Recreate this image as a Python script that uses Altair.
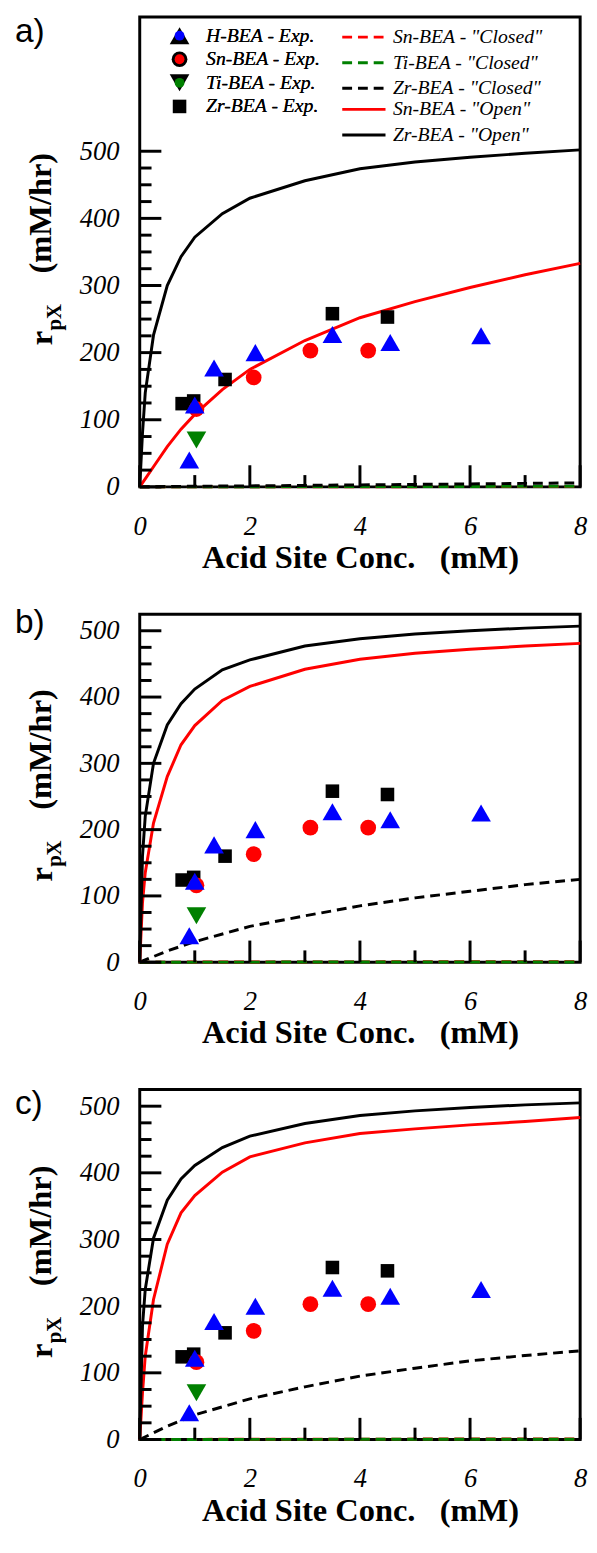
import altair as alt
import pandas as pd

# ---------------- data ----------------
X_OPEN = [0, 0.05, 0.1, 0.25, 0.5, 0.75, 1, 1.5, 2, 3, 4, 5, 6, 7, 8]
X_CLOSED = [0, 0.5, 1, 2, 3, 4, 5, 6, 7, 8]

A_ZR_OPEN = [0, 80, 140, 226, 300, 343, 372, 407, 430, 456, 474, 484, 491, 497, 502]
A_SN_OPEN = [0, 6, 12, 30, 60, 86, 108, 145, 175, 218, 252, 276, 297, 316, 333]
A_ZR_CLOSED = [0, 0.5, 1, 1.5, 2.2, 3, 3.7, 4.4, 5.2, 6]
A_SN_CLOSED = [0, 0.05, 0.1, 0.15, 0.2, 0.3, 0.35, 0.4, 0.45, 0.5]
A_TI_CLOSED = [0, 0.1, 0.15, 0.3, 0.4, 0.5, 0.6, 0.7, 0.8, 0.9]

B_ZR_OPEN = [0, 160, 220, 300, 358, 390, 412, 441, 456, 477, 488, 495, 500, 504, 507]
B_SN_OPEN = [0, 90, 135, 210, 280, 328, 357, 395, 416, 442, 457, 466, 472, 477, 481]
B_ZR_CLOSED = [0, 17, 31, 54, 70, 85, 97, 107, 117, 125]
B_SN_CLOSED = [0, 0.1, 0.2, 0.3, 0.4, 0.5, 0.6, 0.7, 0.8, 0.9]
B_TI_CLOSED = [0, 0.05, 0.1, 0.15, 0.2, 0.25, 0.3, 0.35, 0.4, 0.45]

C_ZR_OPEN = [0, 170, 225, 302, 359, 391, 411, 438, 455, 474, 486, 493, 498, 502, 505]
C_SN_OPEN = [0, 70, 125, 210, 293, 340, 366, 401, 424, 445, 459, 466, 472, 477, 483]
C_ZR_CLOSED = [0, 20, 37, 61, 79, 95, 107, 118, 126, 133]
C_SN_CLOSED = [0, 0.1, 0.2, 0.3, 0.4, 0.5, 0.6, 0.7, 0.8, 0.9]
C_TI_CLOSED = [0, 0.05, 0.1, 0.15, 0.2, 0.25, 0.3, 0.35, 0.4, 0.45]

# experimental points (same in every panel); drawn in this order
EXP_SERIES = (["Zr-BEA - Exp."] * 5 + ["Sn-BEA - Exp."] * 4 + ["Ti-BEA - Exp."]
              + ["H-BEA - Exp."] * 7)
EXP_X = [0.77, 0.98, 1.55, 3.5, 4.5,
         1.03, 2.07, 3.1, 4.15,
         1.03,
         0.9, 1.0, 1.35, 2.1, 3.5, 4.55, 6.2]
EXP_Y = [124, 128, 160, 258, 253,
         116, 163, 203, 203,
         70,
         40, 122, 177, 200, 227, 215, 225]

EXP_NAMES = ["H-BEA - Exp.", "Sn-BEA - Exp.", "Ti-BEA - Exp.", "Zr-BEA - Exp."]
EXP_COLORS = ["#0000ff", "#ff0000", "#008000", "#000000"]
EXP_SHAPES = ["triangle-up", "circle", "triangle-down", "square"]
EXP_SIZES = [400, 256, 400, 190]

CLOSED_NAMES = ['Sn-BEA - "Closed"', 'Ti-BEA - "Closed"', 'Zr-BEA - "Closed"']
CLOSED_COLORS = ["#ff0000", "#008000", "#000000"]
OPEN_NAMES = ['Sn-BEA - "Open"', 'Zr-BEA - "Open"']
OPEN_COLORS = ["#ff0000", "#000000"]
TICK_NAME = "tick"
DASH = [10, 6]

Y_MAJOR = [0, 100, 200, 300, 400, 500]
Y_MINOR = [25, 50, 75, 125, 150, 175, 225, 250, 275, 325, 350, 375, 425, 450, 475]
X_MAJOR = [0, 2, 4, 6, 8]
X_MINOR = [1, 3, 5, 7]

X_TITLE = "Acid Site Conc.\u00a0\u00a0\u00a0(mM)"

SERIF = "Liberation Serif, Times New Roman, DejaVu Serif, serif"
SANS = "Liberation Sans, Arial, sans-serif"
W = 448
MAJOR_LEN = 22
MINOR_LEN = 12


def x_enc(field):
    return alt.X(field, type="quantitative",
                 scale=alt.Scale(domain=[0, 8], nice=False, zero=False),
                 axis=alt.Axis(values=X_MAJOR, format="d", labelFont=SERIF,
                               labelFontStyle="italic", labelFontSize=27,
                               labelColor="black", ticks=False, tickSize=0,
                               domain=False, grid=False, labelPadding=27,
                               labelFlush=False, labelOverlap=False,
                               title=X_TITLE, titleFont=SERIF, titleFontSize=33,
                               titleFontWeight="bold", titleColor="black",
                               titlePadding=3))


def y_enc(field, ymax):
    return alt.Y(field, type="quantitative", title=None,
                 scale=alt.Scale(domain=[0, ymax], nice=False, zero=False),
                 axis=alt.Axis(values=Y_MAJOR, format="d", labelFont=SERIF,
                               labelFontStyle="italic", labelFontSize=27,
                               labelColor="black", ticks=False, tickSize=0,
                               domain=False, grid=False, labelPadding=21,
                               labelFlush=False, labelOverlap=False))


def text_layer(txt, x, y, size, font, weight="normal", angle=0,
               baseline="alphabetic"):
    return alt.Chart(pd.DataFrame({"t": [txt]})).mark_text(
        font=font, fontSize=size, fontWeight=weight, angle=angle,
        align="left", baseline=baseline, color="black"
    ).encode(x=alt.value(x), y=alt.value(y), text="t:N")


def line_legend(y, dash, values):
    kw = dict(orient="none", legendX=216.5, legendY=y,
              labelFont=SERIF, labelFontStyle="italic",
              labelFontSize=20, labelColor="black",
              rowPadding=4, labelOffset=18, padding=0,
              symbolType="M-2.2,0L2.2,0", symbolSize=400,
              symbolStrokeWidth=3, labelLimit=400, values=values)
    if dash:
        kw["symbolDash"] = DASH
    return alt.Legend(**kw)


def panel(letter, letter_y, zr_open, sn_open, zr_closed, sn_closed, ti_closed,
          ymax, H, legend):
    closed_rows = []
    for name, ys in zip(CLOSED_NAMES, [sn_closed, ti_closed, zr_closed]):
        for xv, yv in zip(X_CLOSED, ys):
            closed_rows.append({"x": xv, "y": yv, "model": name})

    # solid lines: the two "Open" curves plus the inward tick marks
    solid_rows = []
    for name, ys in zip(OPEN_NAMES, [sn_open, zr_open]):
        for i, (xv, yv) in enumerate(zip(X_OPEN, ys)):
            solid_rows.append({"x": xv, "y": yv, "model": name, "g": name,
                               "k": i})
    ux = 8.0 / W
    uy = float(ymax) / H
    tid = 0
    for vals, ln in [(Y_MAJOR, MAJOR_LEN), (Y_MINOR, MINOR_LEN)]:
        for v in vals:
            g = "t%d" % tid
            solid_rows.append({"x": 0.0, "y": v, "model": TICK_NAME, "g": g, "k": 0})
            solid_rows.append({"x": ln * ux, "y": v, "model": TICK_NAME, "g": g, "k": 1})
            tid += 1
    for vals, ln in [(X_MAJOR, MAJOR_LEN), (X_MINOR, MINOR_LEN)]:
        for v in vals:
            g = "t%d" % tid
            solid_rows.append({"x": v, "y": 0.0, "model": TICK_NAME, "g": g, "k": 0})
            solid_rows.append({"x": v, "y": ln * uy, "model": TICK_NAME, "g": g, "k": 1})
            tid += 1

    exp_df = pd.DataFrame({"x": EXP_X, "y": EXP_Y, "series": EXP_SERIES,
                           "o": list(range(len(EXP_X)))})

    if legend:
        leg_pts = alt.Legend(orient="none", legendX=30.5, legendY=9,
                             labelFont=SERIF, labelFontStyle="italic",
                             labelFontSize=20, labelColor="black",
                             rowPadding=4, labelOffset=17, padding=0,
                             symbolStrokeWidth=0, symbolOpacity=1,
                             labelLimit=400)
        leg_closed = line_legend(9, True, CLOSED_NAMES)
        leg_open = line_legend(9 + 3 * 24.5, False, OPEN_NAMES)
    else:
        leg_pts = None
        leg_closed = None
        leg_open = None

    closed = alt.Chart(pd.DataFrame(closed_rows)).mark_line(
        strokeWidth=3, strokeDash=DASH).encode(
        x=x_enc("x"), y=y_enc("y", ymax),
        color=alt.Color("model:N", title=None, legend=leg_closed,
                        scale=alt.Scale(domain=CLOSED_NAMES,
                                        range=CLOSED_COLORS)),
        order="x:Q",
    )
    solid = alt.Chart(pd.DataFrame(solid_rows)).mark_line(
        strokeWidth=3).encode(
        x=x_enc("x"), y=y_enc("y", ymax),
        color=alt.Color("model:N", title=None, legend=leg_open,
                        scale=alt.Scale(domain=OPEN_NAMES + [TICK_NAME],
                                        range=OPEN_COLORS + ["#000000"])),
        detail="g:N",
        order="k:Q",
    )

    points = alt.Chart(exp_df).mark_point(filled=True, opacity=1,
                                          strokeWidth=0).encode(
        x=x_enc("x"), y=y_enc("y", ymax),
        color=alt.Color("series:N", title=None, legend=leg_pts,
                        scale=alt.Scale(domain=EXP_NAMES, range=EXP_COLORS)),
        shape=alt.Shape("series:N", title=None, legend=leg_pts,
                        scale=alt.Scale(domain=EXP_NAMES, range=EXP_SHAPES)),
        size=alt.Size("series:N", title=None, legend=leg_pts,
                      scale=alt.Scale(type="ordinal", domain=EXP_NAMES,
                                      range=EXP_SIZES)),
        order="o:Q",
    )

    cy = H / 2.0
    layers = [
        closed, solid, points,
        text_layer("r", -89.5, cy + 95, 33, SERIF, "bold", 270),
        text_layer("pX", -80, cy + 80, 21, SERIF, "bold", 270),
        text_layer("(mM/hr)", -90, cy + 22, 33, SERIF, "bold", 270),
        text_layer(letter, -127, letter_y, 34, SANS, baseline="top"),
    ]
    return alt.layer(*layers).properties(
        width=W, height=H,
        view=alt.ViewBackground(stroke="black", strokeWidth=3),
    ).resolve_scale(color="independent")


pa = panel("a)", -2, A_ZR_OPEN, A_SN_OPEN, A_ZR_CLOSED, A_SN_CLOSED,
           A_TI_CLOSED, 700, 478, True)
pb = panel("b)", -8, B_ZR_OPEN, B_SN_OPEN, B_ZR_CLOSED, B_SN_CLOSED,
           B_TI_CLOSED, 525, 354, False)
pc = panel("c)", -2, C_ZR_OPEN, C_SN_OPEN, C_ZR_CLOSED, C_SN_CLOSED,
           C_TI_CLOSED, 525, 356, False)

chart = alt.vconcat(pa, pb, pc, spacing=129.5, bounds="flush").resolve_scale(
    color="independent", shape="independent", size="independent"
).properties(
    padding={"left": 5, "top": -8, "right": 0, "bottom": -8},
    background="white",
).configure_view(stroke="black", strokeWidth=3)

chart.save("out.html", embed_options={"renderer": "svg", "actions": False})
